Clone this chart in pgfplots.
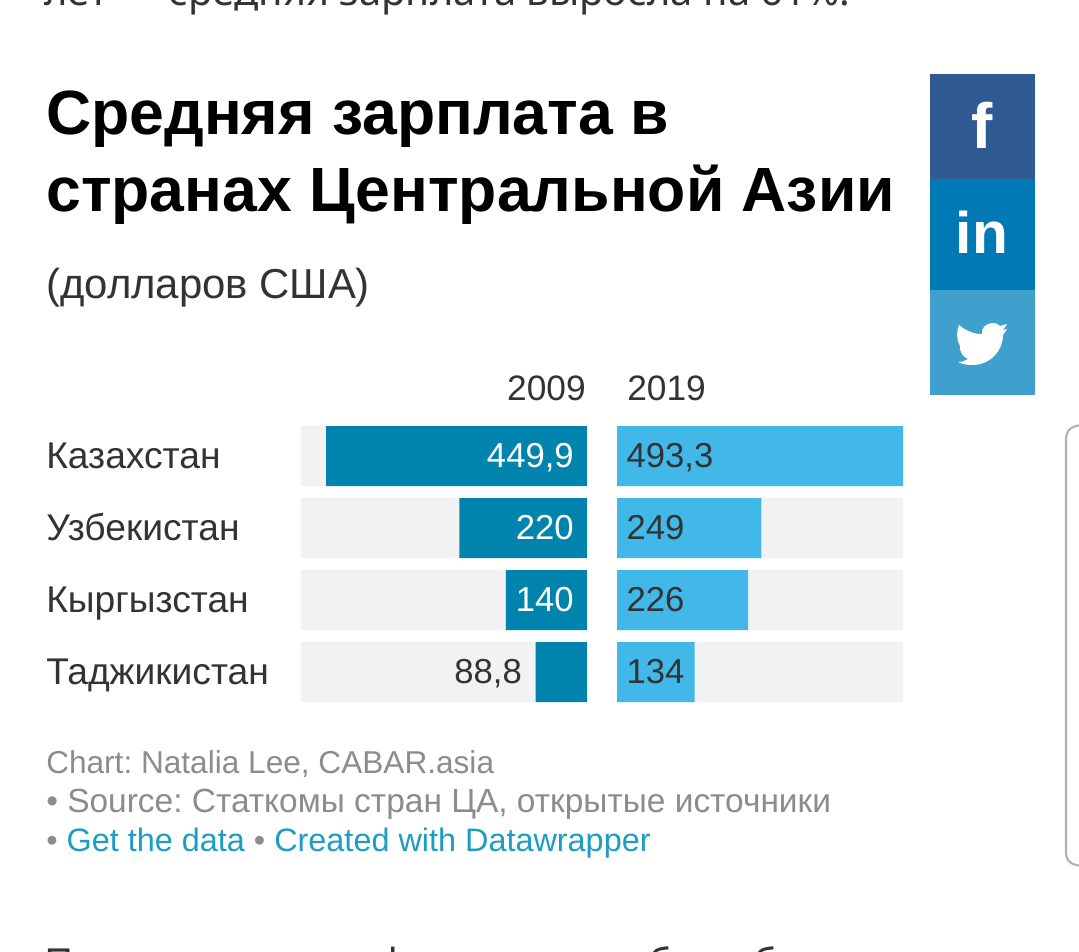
\documentclass[border=0pt]{standalone}
\usepackage{pgfplots}
\usepackage{pgfplotstable}
\usepackage{fontspec}
\pgfplotsset{compat=1.18}
\setmainfont{Liberation Sans}
\newfontfamily\artfont{Noto Sans}
\definecolor{txt}{HTML}{333333}
\definecolor{dark}{HTML}{0084AD}
\definecolor{light}{HTML}{41B8E8}
\definecolor{bg}{HTML}{F2F2F2}
\definecolor{grey}{HTML}{8C8C8C}
\definecolor{lnk}{HTML}{1D9CC4}
\definecolor{fb}{HTML}{2F5A92}
\definecolor{li}{HTML}{0079B5}
\definecolor{tw}{HTML}{40A0CD}
\pgfplotstableread{
y v09 v19 full
0 449.9 493.3 493.3
1 220 249 493.3
2 140 226 493.3
3 88.8 134 493.3
}\wages
\pgfplotsset{barax/.style={
  scale only axis, width=214.5pt, height=207pt,
  xmin=0, xmax=493.3, ymin=-0.41667, ymax=3.41667, y dir=reverse,
  xbar, bar shift=0pt, bar width=45pt,
  axis line style={draw=none}, major tick length=0pt, xtick=\empty,
  every axis plot/.append style={draw=none},
  clip=false,
}}
\tikzset{val/.style={inner sep=0pt, yshift=-6pt, font=\fontsize{26pt}{26pt}\selectfont}}
\begin{document}
\frenchspacing
\begin{tikzpicture}[x=0.75pt,y=-0.75pt]
\path[use as bounding box] (0,0) rectangle (1079,951);
\clip (0,0) rectangle (1079,951);
\fill[white] (0,0) rectangle (1079,951);
% clipped article text
\node[anchor=base west,inner sep=0pt,text=txt,font=\artfont\fontsize{30pt}{30pt}\selectfont] at (44,5) {лет — средняя зарплата выросла на 61\%.};
\node[anchor=base west,inner sep=0pt,text=txt,font=\artfont\fontsize{30pt}{30pt}\selectfont] at (44,977) {Последующие реформы могут быть благом};
% title
\node[anchor=base west,inner sep=0pt,text=black,font=\bfseries\fontsize{46.9pt}{46.9pt}\selectfont] at (46,134) {Средняя зарплата в};
\node[anchor=base west,inner sep=0pt,text=black,font=\bfseries\fontsize{46.9pt}{46.9pt}\selectfont] at (46,211) {странах Центральной Азии};
\node[anchor=base west,inner sep=0pt,text=txt,font=\fontsize{31.4pt}{31.4pt}\selectfont] at (46,298) {(долларов США)};
% share buttons
\fill[fb] (930,74) rectangle (1035,179);
\fill[li] (930,179) rectangle (1035,290);
\fill[tw] (930,290) rectangle (1035,395);
\node[text=white,font=\bfseries\fontsize{48pt}{48pt}\selectfont,anchor=base,inner sep=0pt] at (982,148) {f};
\node[text=white,font=\bfseries\fontsize{44pt}{44pt}\selectfont,anchor=base,inner sep=0pt] at (982,253) {in};
\fill[white] (959,325) .. controls (966,331) and (974,334) .. (982,334)
  .. controls (981,328) and (986,323) .. (993,323)
  .. controls (996,323) and (998,324) .. (1000,326)
  -- (1007,324) -- (1003,330) -- (1007,329) -- (1003,335)
  .. controls (1003,350) and (991,365) .. (972,365)
  .. controls (967,365) and (962,364) .. (958,362)
  .. controls (962,362) and (965,361) .. (968,359)
  .. controls (965,358) and (963,356) .. (962,354)
  .. controls (960,351) and (960,348) .. (960,346)
  .. controls (957,341) and (956,332) .. (959,325) -- cycle;
% side frame
\draw[color=black!30,line width=1.6pt] (1085,425) .. controls (1071,425) and (1066,430) .. (1066,440) -- (1066,852) .. controls (1066,861) and (1071,866) .. (1085,866);
% left bars
\begin{axis}[barax, at={(225.75pt,-319.5pt)}, anchor=north west, x dir=reverse,
  ytick={0,1,2,3}, yticklabels={Казахстан,Узбекистан,Кыргызстан,Таджикистан},
  y tick label style={anchor=west, inner sep=0pt, xshift=-191.25pt, yshift=-6pt, text=txt, text height=0.8em, text depth=0.12em, font=\fontsize{27.9pt}{27.9pt}\selectfont},
  title={2009}, title style={at={(1,1)}, anchor=base east, inner sep=0pt, yshift=13.5pt, xshift=-0.75pt, text=txt, font=\fontsize{26.5pt}{26.5pt}\selectfont}]
\addplot[fill=bg] table[x=full,y=y] {\wages};
\addplot[fill=dark] table[x=v09,y=y] {\wages};
\node[val,text=white,anchor=mid east] at (axis cs:22.4,0) {449,9};
\node[val,text=white,anchor=mid east] at (axis cs:22.4,1) {220};
\node[val,text=white,anchor=mid east] at (axis cs:22.4,2) {140};
\node[val,text=txt,anchor=mid east] at (axis cs:112,3) {88,8};
\end{axis}
% right bars
\begin{axis}[barax, at={(462.75pt,-319.5pt)}, anchor=north west, ytick=\empty,
  title={2019}, title style={at={(0,1)}, anchor=base west, inner sep=0pt, yshift=13.5pt, xshift=7.5pt, text=txt, font=\fontsize{26.5pt}{26.5pt}\selectfont}]
\addplot[fill=bg] table[x=full,y=y] {\wages};
\addplot[fill=light] table[x=v19,y=y] {\wages};
\node[val,text=txt,anchor=mid west] at (axis cs:16,0) {493,3};
\node[val,text=txt,anchor=mid west] at (axis cs:16,1) {249};
\node[val,text=txt,anchor=mid west] at (axis cs:16,2) {226};
\node[val,text=txt,anchor=mid west] at (axis cs:16,3) {134};
\end{axis}
% footer
\node[anchor=base west,inner sep=0pt,text=grey,font=\fontsize{23.7pt}{23.7pt}\selectfont] at (46,773) {Chart: Natalia Lee, CABAR.asia};
\node[anchor=base west,inner sep=0pt,text=grey,font=\fontsize{25.1pt}{25.1pt}\selectfont] at (46,812) {• Source: Статкомы стран ЦА, открытые источники};
\node[anchor=base west,inner sep=0pt,text=grey,font=\fontsize{24.3pt}{24.3pt}\selectfont] at (46,851) {• \textcolor{lnk}{Get the data} • \textcolor{lnk}{Created with Datawrapper}};
\end{tikzpicture}
\end{document}
